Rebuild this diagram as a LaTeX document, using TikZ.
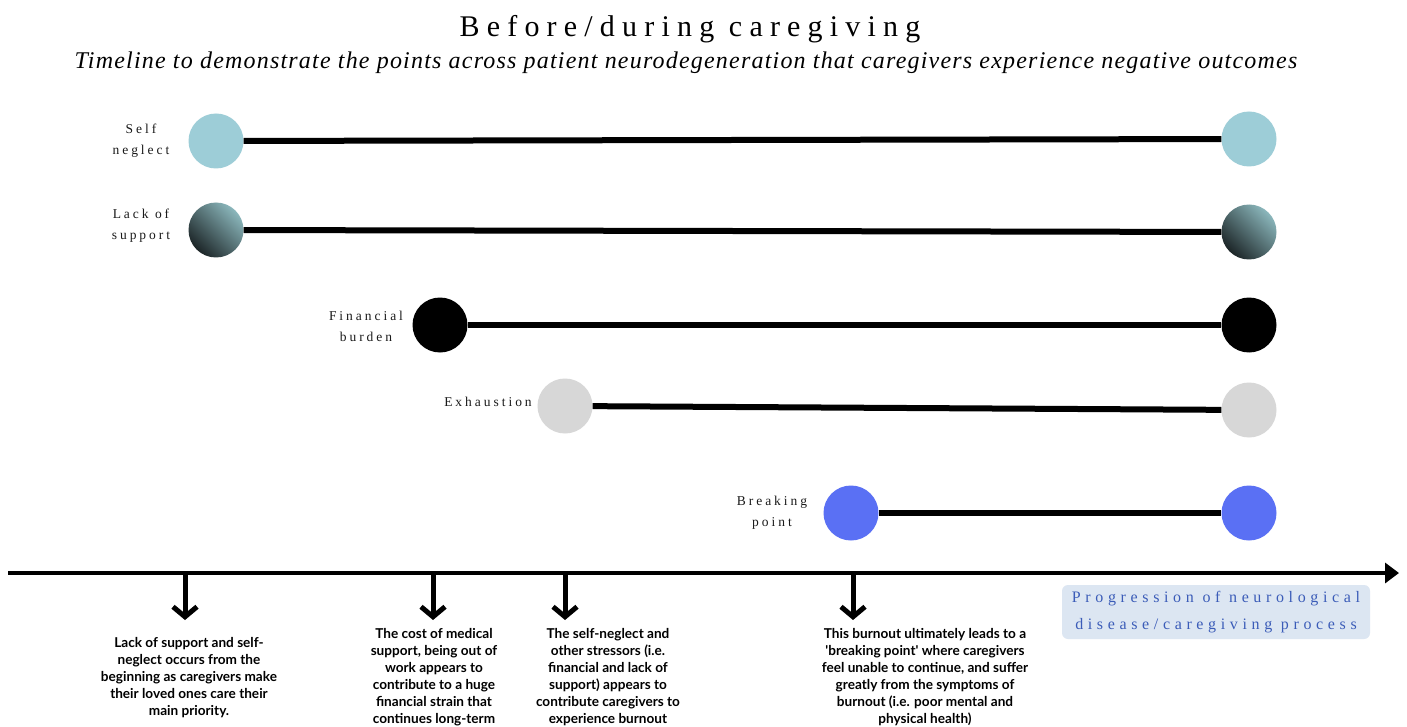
\documentclass[tikz,border=0pt]{standalone}
\usepackage{fontspec}
\setmainfont{Liberation Serif}
\newfontfamily\lblfont[LetterSpace=22]{Liberation Serif}
\newfontfamily\ttlfont[LetterSpace=24]{Liberation Serif}
\newfontfamily\subfont[LetterSpace=5]{Liberation Serif Italic}
\newfontfamily\progfont[LetterSpace=29]{Liberation Serif}
\newfontfamily\descfont{Lato Bold}
\usetikzlibrary{arrows.meta}
\definecolor{cSelf}{HTML}{9DCDD7}
\definecolor{cLackD}{HTML}{1C2527}
\definecolor{cLackL}{HTML}{8BB7BC}
\definecolor{cExh}{HTML}{D7D7D7}
\definecolor{cBreak}{HTML}{5A70F4}
\definecolor{cProgBg}{HTML}{DCE6F2}
\definecolor{cProgTx}{HTML}{3B5CB8}
\definecolor{cTxt}{HTML}{1A1A1A}
\tikzset{
  dot/.style={circle, minimum size=55pt, inner sep=0pt, draw=none},
  bar/.style={line width=6pt, black},
  lbl/.style={font=\lblfont\fontsize{13.5}{21}\selectfont, align=center, text=cTxt, inner sep=0pt},
  desc/.style={font=\descfont\fontsize{13.6}{17}\selectfont, align=center, text=black, inner sep=0pt, anchor=north},
  downarr/.style={line width=5pt, -{Straight Barb[length=10pt,width=24pt]}},
}
\begin{document}
\begin{tikzpicture}[x=1pt,y=-1pt]
\useasboundingbox[fill=white] (0,0) rectangle (1407,727);
% titles
\node[font=\ttlfont\fontsize{30}{30}\selectfont, text=black] (title) at (690,29) {Before/during caregiving};
\node[font=\subfont\fontsize{24}{24}\selectfont, text=black] (sub) at (686,63) {Timeline to demonstrate the points across patient neurodegeneration that caregivers experience negative outcomes};
% rows
\node[dot, fill=cSelf] (s1) at (216,141) {};
\node[dot, fill=cSelf] (s2) at (1249,139) {};
\draw[bar] (s1) -- (s2);
\node[lbl] (ls) at (141,141) {Self\\neglect};

\node[dot, shading=axis, bottom color=cLackD, top color=cLackL, shading angle=-45] (l1) at (216,230) {};
\node[dot, shading=axis, bottom color=cLackD, top color=cLackL, shading angle=-45] (l2) at (1249,232) {};
\draw[bar] (l1) -- (l2);
\node[lbl] (ll) at (141,226) {Lack of\\support};

\node[dot, fill=black] (f1) at (440,325) {};
\node[dot, fill=black] (f2) at (1249,325) {};
\draw[bar] (f1) -- (f2);
\node[lbl] (lf) at (366,326) {Financial\\burden};

\node[dot, fill=cExh] (e1) at (565,406) {};
\node[dot, fill=cExh] (e2) at (1249,410) {};
\draw[bar] (e1) -- (e2);
\node[lbl] (le) at (488,402) {Exhaustion};

\node[dot, fill=cBreak] (b1) at (851,513) {};
\node[dot, fill=cBreak] (b2) at (1249,513) {};
\draw[bar] (b1) -- (b2);
\node[lbl] (lb) at (772,513) {Breaking\\point};
% axis
\coordinate (axL) at (8,573);
\coordinate (axR) at (1399,573);
\draw[line width=4pt, -{Triangle[length=14pt,width=20pt]}] (axL) -- (axR);
% down arrows
\foreach \n/\x in {a/185, b/433, c/565, d/853}{
  \coordinate (\n0) at (\x,573);
  \coordinate (\n1) at (\x,620);
  \draw[downarr] (\n0) -- (\n1);
}
% descriptions
\node[desc] (d1) at (189,637) {Lack of support and self-\\neglect occurs from the\\beginning as caregivers make\\their loved ones care their\\main priority.};
\node[desc] (d2) at (434,628) {The cost of medical\\support, being out of\\work appears to\\contribute to a huge\\financial strain that\\continues long-term};
\node[desc] (d3) at (608,628) {The self-neglect and\\other stressors (i.e.\\financial and lack of\\support) appears to\\contribute caregivers to\\experience burnout};
\node[desc] (d4) at (925,628) {This burnout ultimately leads to a\\'breaking point' where caregivers\\feel unable to continue, and suffer\\greatly from the symptoms of\\burnout (i.e. poor mental and\\physical health)};
% progression box
\node[fill=cProgBg, rounded corners=6pt, minimum width=308pt, minimum height=54pt, inner sep=0pt, text=cProgTx, align=center, font=\progfont\fontsize{16}{27}\selectfont] (prog) at (1216,612) {Progression of neurological\\disease/caregiving process};
\end{tikzpicture}
\end{document}
